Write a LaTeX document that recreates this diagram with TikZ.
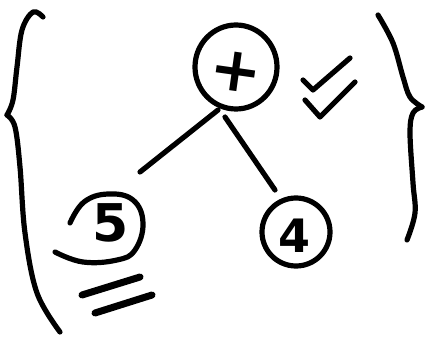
\documentclass[tikz,border=0pt]{standalone}
\usepackage{fontspec}
\usetikzlibrary{shapes.geometric}
\newfontfamily\handfont{DejaVu Sans}
\begin{document}
\begin{tikzpicture}[x=1pt,y=-1pt,
  ink/.style={line width=5.2pt,line cap=round,line join=round,black},
  thickink/.style={line width=7pt,line cap=round,line join=round,black},
  glyph/.style={inner sep=0pt,font=\handfont\bfseries},
  edge/.style={ink}]
\useasboundingbox (0,0) rectangle (425,339);
% braces
\draw[ink] plot[smooth,tension=0.6] coordinates {(43,17) (33,12) (22,30) (17,67) (13,100) (7,115)};
\draw[ink] plot[smooth,tension=0.6] coordinates {(7,115) (15,127) (20,167) (25,233) (37,293) (60,332)};
\draw[ink] plot[smooth,tension=0.6] coordinates {(378,15) (393,43) (403,77) (410,97) (422,107)};
\draw[ink] plot[smooth,tension=0.6] coordinates {(422,107) (413,113) (410,133) (413,183) (415,213) (407,240)};
% root node
\node[draw,ellipse,ink,minimum width=82pt,minimum height=84pt,inner sep=0pt] (root) at (236,67) {};
\node[glyph,font=\handfont\bfseries\fontsize{62}{62}\selectfont,rotate=-8] (plus) at (236,72) {+};
% check marks
\draw[ink] (303,80) -- (313,90) -- (350,58);
\draw[ink] (305,100) -- (320,117) -- (355,82);
% child 5
\coordinate (five) at (107,227);
\draw[ink] plot[smooth,tension=0.7] coordinates {(70,223) (84,202) (108,194) (133,200) (143,223) (135,250) (117,260) (83,262) (55,252)};
\node[glyph,font=\handfont\bfseries\fontsize{52}{52}\selectfont] (fivetxt) at (111,223) {5};
% child 4
\node[draw,circle,ink,minimum size=68pt,inner sep=0pt] (four) at (296,232) {};
\node[glyph,font=\handfont\bfseries\fontsize{46}{46}\selectfont] (fourtxt) at (294,236) {4};
% connectors
\coordinate (a1) at (218,110);
\coordinate (a2) at (140,172);
\coordinate (b1) at (225,117);
\coordinate (b2) at (275,190);
\draw[edge] (a1) -- (a2);
\draw[edge] (b1) -- (b2);
% double underline
\coordinate (u1) at (82,295);
\coordinate (u2) at (140,277);
\coordinate (u3) at (95,313);
\coordinate (u4) at (152,295);
\draw[thickink] (u1) -- (u2);
\draw[thickink] (u3) -- (u4);
\end{tikzpicture}
\end{document}
